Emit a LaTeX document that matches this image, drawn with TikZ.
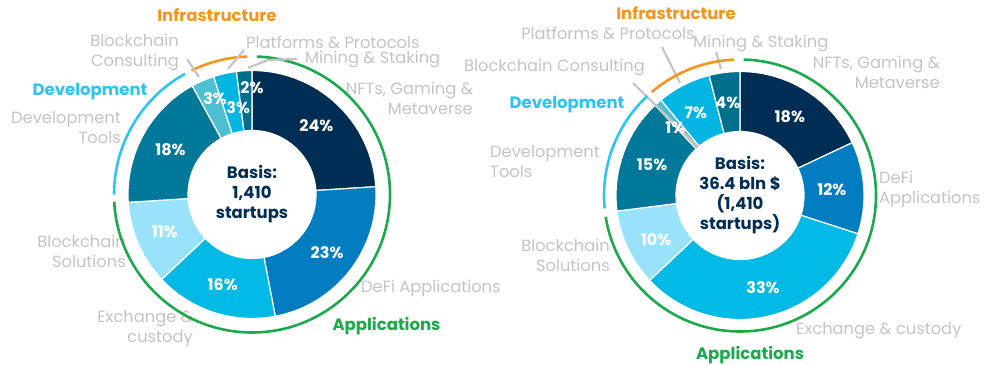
\documentclass[tikz,border=0pt]{standalone}
\usepackage{fontspec}
\setmainfont{Poppins}
\definecolor{navy}{HTML}{002D54}
\definecolor{defi}{HTML}{007DC0}
\definecolor{exch}{HTML}{00B9E4}
\definecolor{solu}{HTML}{98E3FB}
\definecolor{tools}{HTML}{00789A}
\definecolor{consult}{HTML}{4DBFD0}
\definecolor{platf}{HTML}{00B5E2}
\definecolor{mining}{HTML}{006F8E}
\definecolor{appgreen}{HTML}{1BA94C}
\definecolor{devblue}{HTML}{2BC4F3}
\definecolor{infraorange}{HTML}{F7941D}
\definecolor{lblgray}{HTML}{C4C4C4}

\begin{document}
\begin{tikzpicture}[x=1pt, y=1pt,
  slice/.style={draw=white, line width=1.2pt},
  pct/.style={text=white, font=\fontsize{16}{18}\selectfont\bfseries, inner sep=0pt},
  lbl/.style={text=lblgray, font=\fontsize{16.3}{20}\selectfont, inner sep=0pt},
  grp/.style={font=\fontsize{16.5}{18}\selectfont\bfseries, inner sep=0pt},
  ring/.style={line width=2.6pt},
  leader/.style={draw=lblgray, line width=2.2pt},
  basis/.style={text=navy, font=\fontsize{16.5}{20}\selectfont\bfseries, align=center, inner sep=0pt}]
  \useasboundingbox (0,0) rectangle (992,364);
  \coordinate (L) at (252,169.5);
  \coordinate (R) at (740,168.5);

  % left labels
  \node [grp, infraorange] (linfra) at (217,349) {Infrastructure};
  \node [grp, devblue] (ldev) at (90,272) {Development};
  \node [grp, appgreen] (lapp) at (386.5,38) {Applications};
  \node [lbl, anchor=east, align=right] (lcons) at (179,311) {Blockchain\\Consulting};
  \node [lbl, anchor=west] (lplat) at (246,322) {Platforms \& Protocols};
  \node [lbl, anchor=west] (lmin) at (305,304) {Mining \& Staking};
  \node [lbl, anchor=east, align=right] (lnft) at (473,265.5) {NFTs, Gaming \&\\Metaverse};
  \node [lbl, anchor=east, align=right] (ltools) at (121,236) {Development\\Tools};
  \node [lbl, anchor=east, align=right] (lsolu) at (126,112.5) {Blockchain\\Solutions};
  \node [lbl, anchor=east, align=right] (lexch) at (193,35.5) {Exchange \&\\custody};
  \node [lbl, anchor=west] (ldefi) at (361,76) {DeFi Applications};

  % left donut
  \foreach \a/\b/\col in {90/3.6/navy, 3.6/-79.2/defi, -79.2/-136.8/exch,
      -136.8/-176.4/solu, -176.4/-241.2/tools, -241.2/-252/consult,
      -252/-262.8/platf, -262.8/-270/mining}
    \filldraw [slice, fill=\col] ([shift={(\a:64)}]L)
      arc [start angle=\a, end angle=\b, radius=64]
      -- ([shift={(\b:124)}]L)
      arc [start angle=\b, end angle=\a, radius=124] -- cycle;
  \foreach \ang/\r/\t [count=\i] in {46.8/94/24, -37.8/95/23, -108/95/16,
      -156.6/95/11, 151.2/93/18, 111/103/3, 99/88/3, 90/107/2}
    \node [pct] (lp\i) at ([shift={(\ang:\r)}]L) {\t\%};
  \node [basis] (lbasis) at (L) {Basis:\\1,410\\startups};

  % left group rings
  \draw [ring, appgreen] ([shift={(88:138)}]L) arc [start angle=88, end angle=-177, radius=138];
  \draw [ring, devblue] ([shift={(-180:138)}]L) arc [start angle=-180, end angle=-241, radius=138];
  \draw [ring, infraorange] ([shift={(116:138)}]L) arc [start angle=116, end angle=92, radius=138];

  % left leader lines
  \coordinate (lc1) at (187,305); \coordinate (lc2) at (199,287);
  \coordinate (lq1) at (244,314); \coordinate (lq2) at (228,295);
  \coordinate (lm1) at (248,296); \coordinate (lm2) at (268,304); \coordinate (lm3) at (297,305);
  \draw [leader] (lc1) -- (lc2);
  \draw [leader] (lq1) -- (lq2);
  \draw [leader] (lm1) -- (lm2) -- (lm3);

  % right labels
  \node [grp, infraorange] (rinfra) at (676,351) {Infrastructure};
  \node [grp, devblue] (rdev) at (567,259) {Development};
  \node [grp, appgreen] (rapp) at (750,9) {Applications};
  \node [lbl] (rplat) at (608,331) {Platforms \& Protocols};
  \node [lbl, anchor=west] (rmin) at (693,320) {Mining \& Staking};
  \node [lbl, anchor=east] (rcons) at (645,296) {Blockchain Consulting};
  \node [lbl, anchor=east, align=right] (rnft) at (940,292) {NFTs, Gaming \&\\Metaverse};
  \node [lbl, anchor=west, align=left] (rtools) at (490,202) {Development\\Tools};
  \node [lbl, anchor=west, align=left] (rdefi) at (879,174.5) {DeFi\\Applications};
  \node [lbl, anchor=east, align=right] (rsolu) at (610,109) {Blockchain\\Solutions};
  \node [lbl, anchor=west] (rexch) at (796,33) {Exchange \& custody};

  % right donut
  \foreach \a/\b/\col in {90/25.2/navy, 25.2/-18/defi, -18/-136.8/exch,
      -136.8/-172.8/solu, -172.8/-226.8/tools, -226.8/-230.4/consult,
      -230.4/-255.6/platf, -255.6/-270/mining}
    \filldraw [slice, fill=\col] ([shift={(\a:64)}]R)
      arc [start angle=\a, end angle=\b, radius=64]
      -- ([shift={(\b:124)}]R)
      arc [start angle=\b, end angle=\a, radius=124] -- cycle;

  % right leader lines
  \coordinate (rc1) at (633,281); \coordinate (rc2) at (698,217);
  \coordinate (rq1) at (662,317); \coordinate (rq2) at (680,281);
  \coordinate (rm1) at (716,312); \coordinate (rm2) at (721,295);
  \draw [leader] (rc1) -- (rc2);
  \draw [leader] (rq1) -- (rq2);
  \draw [leader] (rm1) -- (rm2);

  \foreach \ang/\r/\t [count=\i] in {57.6/93/18, 3.6/92/12, -76/95/33,
      -152/95/10, 161/93/15, 133.5/94/1, 118/94/7, 97.5/93/4}
    \node [pct] (rp\i) at ([shift={(\ang:\r)}]R) {\t\%};
  \node [basis] (rbasis) at (R) {Basis:\\36.4 bln \$\\(1,410\\startups)};

  % right group rings
  \draw [ring, appgreen] ([shift={(88.5:136)}]R) arc [start angle=88.5, end angle=-171, radius=136];
  \draw [ring, devblue] ([shift={(-174.5:136)}]R) arc [start angle=-174.5, end angle=-227, radius=136];
  \draw [ring, infraorange] ([shift={(130.5:136)}]R) arc [start angle=130.5, end angle=92.5, radius=136];
\end{tikzpicture}
\end{document}
